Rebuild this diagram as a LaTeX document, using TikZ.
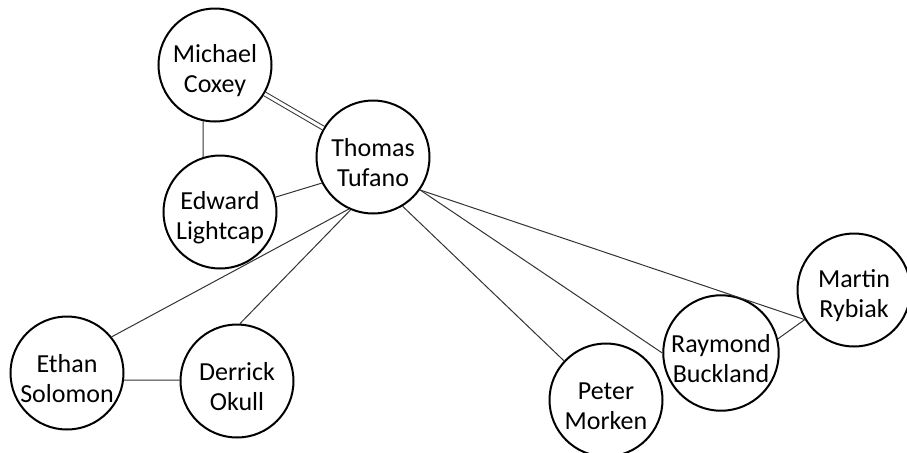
\documentclass[tikz,border=0pt]{standalone}
\usepackage{fontspec}
\setmainfont{Carlito}
\newcommand{\toppad}{\rule{0pt}{14.5pt}}
\begin{document}
\begin{tikzpicture}[x=0.5pt,y=-0.5pt,
  person/.style={circle,draw=black,line width=1pt,minimum size=56.5pt,inner sep=0pt,
    align=center,font=\fontsize{13}{14.8}\selectfont,fill=white},
  link/.style={line width=0.5pt,draw=black!80}]
\useasboundingbox (0,0) rectangle (907,452);
\node[person] (mc) at (215,65) {\toppad Michael\\Coxey};
\node[person] (tt) at (373,157) {\toppad Thomas\\Tufano};
\node[person] (el) at (220,212) {\toppad Edward\\Lightcap};
\node[person] (es) at (67,373) {\toppad Ethan\\Solomon};
\node[person] (do) at (237,381) {\toppad Derrick\\Okull};
\node[person] (pm) at (606,400) {\toppad Peter\\Morken};
\node[person] (rb) at (721,353) {\toppad Raymond\\Buckland};
\node[person] (mr) at (854,290) {\toppad Martin\\Rybiak};
\draw[link,double,double distance=1.5pt] (mc) -- (tt);
\draw[link] (mc.-102) -- (el.107);
\draw[link] (el.15) -- (tt.-153);
\draw[link] (tt.-115) -- (es.39);
\draw[link] (tt.-113) -- (do.87);
\draw[link] (es.-7) -- (do.179);
\draw[link] (tt.-59) -- (pm.137);
\draw[link] (tt.-35) -- (rb.180);
\draw[link] (tt.-35) -- (mr.-149);
\draw[link] (rb.14) -- (mr.-149);
\end{tikzpicture}
\end{document}
